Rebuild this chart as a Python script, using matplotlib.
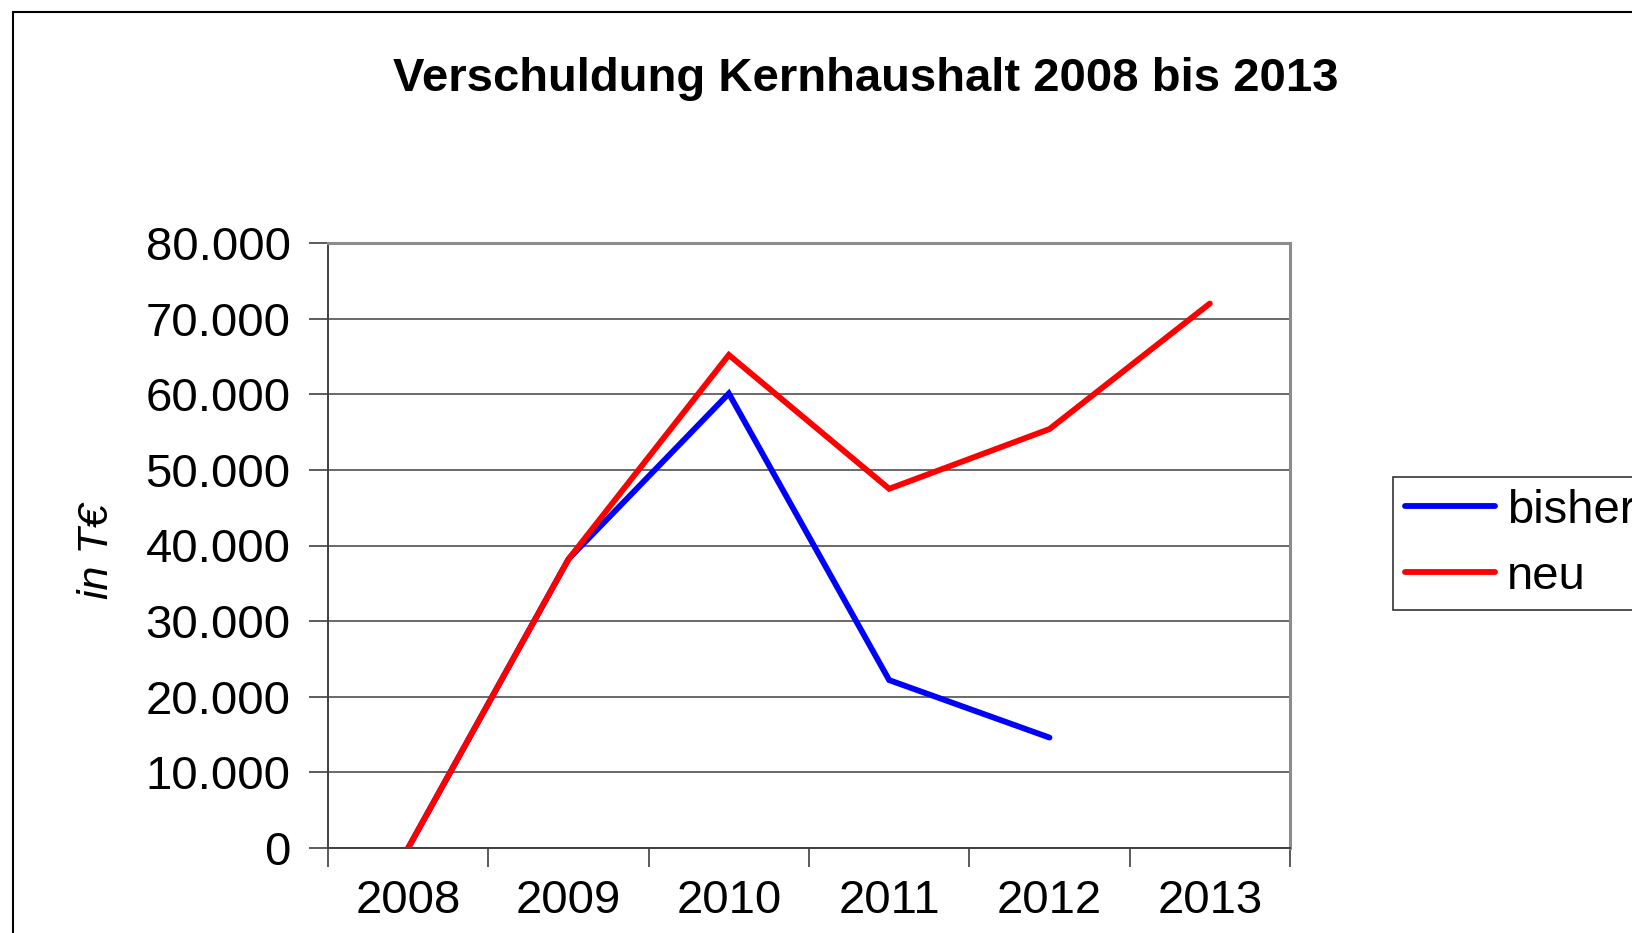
import numpy as np
import matplotlib
matplotlib.use("Agg")
import matplotlib.pyplot as plt
from matplotlib.patches import Rectangle

plt.rcParams['font.family'] = ['Liberation Sans', 'DejaVu Sans']

years = ["2008", "2009", "2010", "2011", "2012", "2013"]
bisher = [0, 38200, 60100, 22200, 14600, np.nan]
neu = [0, 38200, 65200, 47500, 55400, 72000]
yticks = [0, 10000, 20000, 30000, 40000, 50000, 60000, 70000, 80000]
ytick_labels = ["0", "10.000", "20.000", "30.000", "40.000", "50.000", "60.000", "70.000", "80.000"]

W, H = 1633, 933
fig = plt.figure(figsize=(W / 100, H / 100), dpi=100)
ax = fig.add_axes([328 / W, 1 - 848 / H, (1290 - 328) / W, (848 - 243) / H])

x = np.arange(len(years)) + 0.5
ax.plot(x, bisher, color='#0000ff', lw=4.2, solid_capstyle='round', solid_joinstyle='miter', label='bisher', zorder=3)
ax.plot(x, neu, color='#ff0000', lw=4.2, solid_capstyle='round', solid_joinstyle='miter', label='neu', zorder=4)

ax.set_xlim(0, len(years))
ax.set_ylim(0, 80000)
ax.set_yticks(yticks)
ax.set_yticklabels(ytick_labels, fontsize=34)
ax.set_xticks(np.arange(len(years) + 1))
ax.set_xticklabels([])
ax.set_xticks(x, minor=True)
ax.set_xticklabels(years, minor=True, fontsize=34)
ax.tick_params(axis='x', which='major', length=14, width=1.2, color='#404040', direction='out')
ax.tick_params(axis='x', which='minor', length=0, pad=22)
ax.tick_params(axis='y', length=14, width=1.2, color='#404040', direction='out', pad=13)

ax.grid(axis='y', color='#505050', lw=1.2, zorder=1)
ax.set_axisbelow(True)
for s in ['top', 'right']:
    ax.spines[s].set_color('#8c8c8c')
    ax.spines[s].set_linewidth(2.2)
for s in ['left', 'bottom']:
    ax.spines[s].set_color('#404040')
    ax.spines[s].set_linewidth(1.4)

fig.text(97 / W, 1 - 551 / H, "in T€", rotation=90, fontsize=31, style='italic',
         ha='center', va='center')
fig.text(866 / W, 1 - 79 / H, "Verschuldung Kernhaushalt 2008 bis 2013", fontsize=34,
         fontweight='bold', ha='center', va='center')

leg = fig.legend(loc='upper left', bbox_to_anchor=(1393 / W, 1 - 477 / H), borderaxespad=0,
                 fontsize=34, handlelength=1.92, handletextpad=0.24, labelspacing=0.46,
                 borderpad=0.25, fancybox=False, frameon=True)
leg.get_frame().set_edgecolor('black')
leg.get_frame().set_linewidth(1.2)

fig.patches.append(Rectangle((13 / W, -0.1), 2, 1 - 12 / H + 0.1, transform=fig.transFigure,
                             fill=False, ec='black', lw=1.5))

fig.savefig("out.png", dpi=100)
